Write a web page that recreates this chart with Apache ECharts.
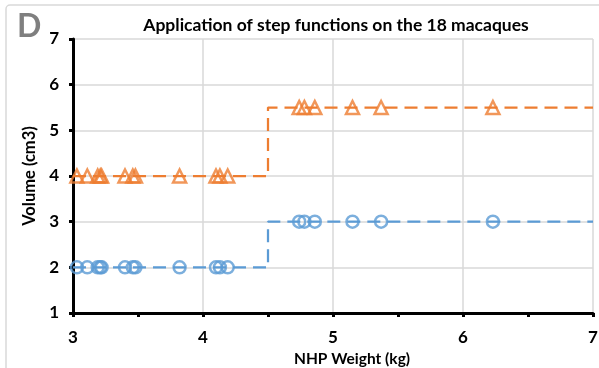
<!DOCTYPE html>
<html>
<head>
<meta charset="utf-8">
<script src="https://cdn.jsdelivr.net/npm/echarts@6/dist/echarts.min.js"></script>
<style>
  html, body { margin: 0; padding: 0; background: #fff; }
  #chart { width: 599px; height: 368px; }
</style>
</head>
<body>
<div id="chart"></div>
<script>
// weights (kg) of the 18 macaques, split by the 4.5 kg threshold
const lightWeights = [3.03, 3.11, 3.19, 3.21, 3.22, 3.40, 3.46, 3.48, 3.82, 4.10, 4.13, 4.19];
const heavyWeights = [4.74, 4.78, 4.86, 5.15, 5.37, 6.23];

// step function: threshold and the two volume levels per series
const threshold = 4.5;
const weightRange = [3, 7];
const blueLevels = [2, 3];
const orangeLevels = [4, 5.5];

const BLUE = '#5B9BD5';
const ORANGE = '#ED7D31';
const FONT = 'Lato';

function stepLine(levels) {
  return [
    [weightRange[0], levels[0]],
    [threshold, levels[1]],
    [weightRange[1], levels[1]]
  ];
}

function points(levels) {
  return lightWeights.map(w => [w, levels[0]])
    .concat(heavyWeights.map(w => [w, levels[1]]));
}

const chart = echarts.init(document.getElementById('chart'), null, { renderer: 'canvas' });

const option = {
  animation: false,
  backgroundColor: '#fff',
  grid: { left: 73, right: 6, top: 39, bottom: 55, containLabel: false, outerBoundsMode: 'none' },
  graphic: [
    {
      type: 'rect',
      shape: { x: 6, y: 5, width: 620, height: 400, r: 4 },
      style: { fill: 'none', stroke: '#d9d9d9', lineWidth: 1.5 },
      silent: true
    },
    {
      type: 'text', left: 17, top: 11,
      style: { text: 'D', fill: '#7f7f7f', font: 'bold 32px ' + FONT }
    },
    {
      type: 'text', x: 336, y: 16,
      style: {
        text: 'Application of step functions on the 18 macaques',
        fill: '#000', font: 'bold 17.5px ' + FONT, textAlign: 'center'
      }
    }
  ],
  xAxis: {
    type: 'value',
    min: 3, max: 7, interval: 1,
    name: 'NHP Weight (kg)',
    nameLocation: 'middle',
    nameGap: 34,
    nameTextStyle: { fontFamily: FONT, fontWeight: 'bold', fontSize: 15.5, color: '#000', padding: [0, 0, 0, 38] },
    axisLine: { lineStyle: { color: '#000', width: 3 } },
    axisTick: { length: 4, lineStyle: { color: '#000', width: 3 } },
    minorTick: { show: true, splitNumber: 2, length: 4, lineStyle: { color: '#000', width: 3 } },
    axisLabel: { fontFamily: FONT, fontWeight: 'bold', fontSize: 17, color: '#000', margin: 16 },
    splitLine: { show: true, lineStyle: { color: '#d9d9d9', width: 1.5 } }
  },
  yAxis: {
    type: 'value',
    min: 1, max: 7, interval: 1,
    name: 'Volume (cm3)',
    nameLocation: 'middle',
    nameGap: 29,
    nameTextStyle: { fontFamily: FONT, fontWeight: 'bold', fontSize: 16.5, color: '#000' },
    axisLine: { show: true, lineStyle: { color: '#000', width: 3 } },
    axisTick: { show: true, length: 4, lineStyle: { color: '#000', width: 3 } },
    axisLabel: { fontFamily: FONT, fontWeight: 'bold', fontSize: 17, color: '#000', margin: 14 },
    splitLine: { show: true, lineStyle: { color: '#d9d9d9', width: 1.5 } }
  },
  series: [
    {
      type: 'line',
      data: stepLine(blueLevels),
      step: 'end',
      symbol: 'none',
      lineStyle: { color: BLUE, width: 2.25, type: [13, 7] },
      z: 2
    },
    {
      type: 'line',
      data: stepLine(orangeLevels),
      step: 'end',
      symbol: 'none',
      lineStyle: { color: ORANGE, width: 2.25, type: [13, 7] },
      z: 2
    },
    {
      type: 'scatter',
      data: points(blueLevels),
      symbol: 'circle',
      symbolSize: 12,
      itemStyle: { color: 'transparent', borderColor: BLUE, borderWidth: 2.5 },
      z: 3
    },
    {
      type: 'scatter',
      data: points(orangeLevels),
      symbol: 'triangle',
      symbolSize: 13,
      itemStyle: { color: 'transparent', borderColor: ORANGE, borderWidth: 2.5 },
      z: 3
    }
  ]
};

chart.setOption(option);
window.addEventListener('resize', () => chart.resize());
</script>
</body>
</html>
